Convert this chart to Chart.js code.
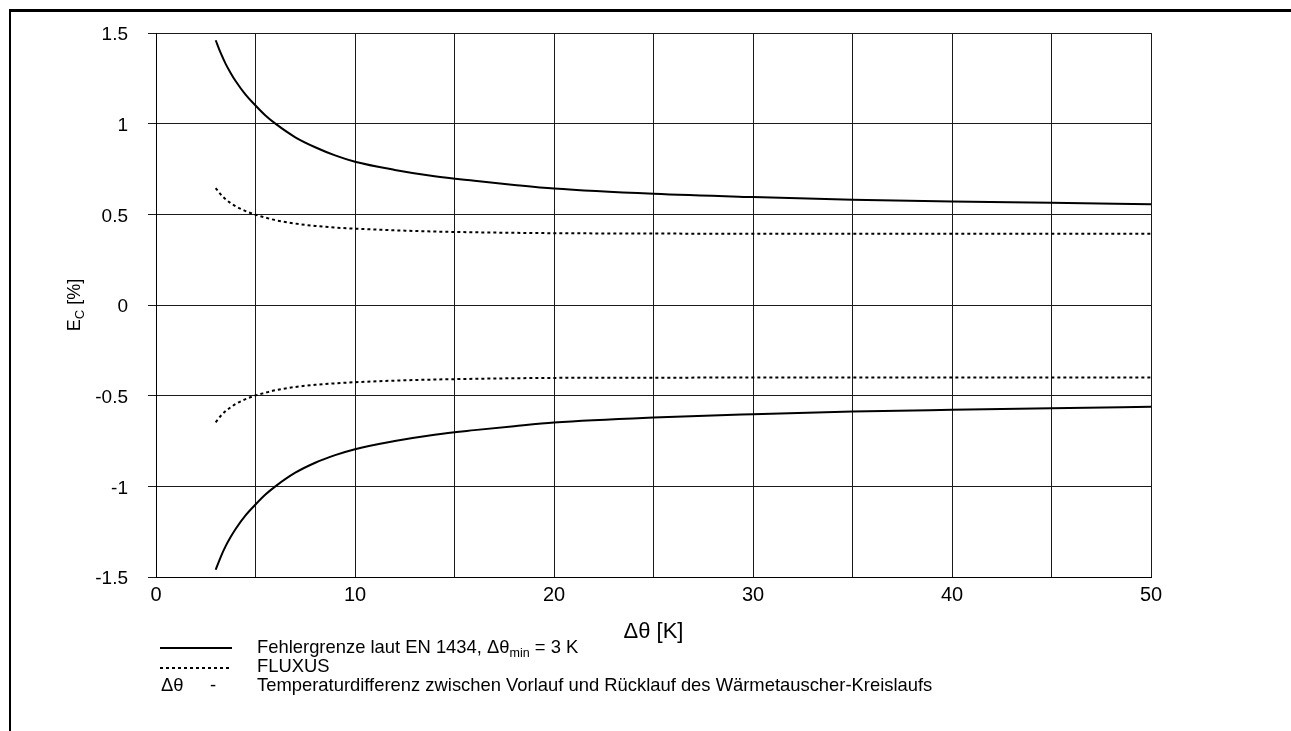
<!DOCTYPE html>
<html>
<head>
<meta charset="utf-8">
<script src="https://cdn.jsdelivr.net/npm/chart.js@4"></script>
<style>
  html, body { margin: 0; padding: 0; background: #fff; }
  #wrap { position: relative; width: 1291px; height: 731px; }
  #frame { position: absolute; left: 9px; top: 9px; width: 1282px; height: 722px;
           border-top: 3px solid #000; border-left: 2px solid #000; box-sizing: border-box; }
  canvas { position: absolute; left: 0; top: 0; }
</style>
</head>
<body>
<div id="wrap">
  <div id="frame"></div>
  <canvas id="c" width="1291" height="731"></canvas>
</div>
<script>
// Δθ values [K]
const deltaTheta = [3, 3.25, 3.5, 3.75, 4, 4.5, 5, 5.5, 6, 7, 8, 9, 10, 12, 14, 16, 18, 20, 25, 30, 35, 40, 45, 50];
// Error limit EN 1434 (upper / lower) [%]
const limitUpper = [1.46, 1.39, 1.33, 1.28, 1.235, 1.16, 1.10, 1.045, 1.0, 0.925, 0.87, 0.825, 0.79, 0.745, 0.71, 0.685, 0.662, 0.642, 0.613, 0.595, 0.581, 0.571, 0.564, 0.556];
const limitLower = [-1.46, -1.39, -1.33, -1.28, -1.235, -1.16, -1.10, -1.045, -1.0, -0.925, -0.87, -0.828, -0.795, -0.75, -0.715, -0.69, -0.668, -0.648, -0.62, -0.602, -0.588, -0.578, -0.569, -0.561];
// FLUXUS (upper / lower) [%]
const fluxusUpper = [0.645, 0.61, 0.583, 0.562, 0.545, 0.518, 0.498, 0.482, 0.468, 0.449, 0.436, 0.427, 0.421, 0.412, 0.405, 0.401, 0.398, 0.396, 0.394, 0.393, 0.393, 0.393, 0.393, 0.393];
const fluxusLower = [-0.647, -0.612, -0.585, -0.564, -0.546, -0.519, -0.499, -0.484, -0.47, -0.452, -0.44, -0.432, -0.426, -0.417, -0.411, -0.407, -0.404, -0.402, -0.401, -0.4, -0.4, -0.4, -0.4, -0.4];
// Tick labels
const xTickLabels = ['0', '10', '20', '30', '40', '50'];
const yTickLabels = ['-1.5', '-1', '-0.5', '0', '0.5', '1', '1.5'];
const yTickValues = [-1.5, -1, -0.5, 0, 0.5, 1, 1.5];

const pts = (ys) => deltaTheta.map((x, i) => ({ x: x, y: ys[i] }));

const FONT = '"Liberation Sans", Arial, sans-serif';

const solid = { borderColor: '#000', borderWidth: 2, pointRadius: 0, fill: false, cubicInterpolationMode: 'monotone' };
const dotted = { borderColor: '#000', borderWidth: 2, borderDash: [3, 3], pointRadius: 0, fill: false, cubicInterpolationMode: 'monotone' };

const decor = {
  id: 'decor',
  afterDraw(chart) {
    const ctx = chart.ctx;
    const area = chart.chartArea;
    ctx.save();
    ctx.fillStyle = '#000';
    ctx.strokeStyle = '#000';
    // Y-axis title: E_C [%]
    ctx.save();
    ctx.translate(80, (area.top + area.bottom) / 2);
    ctx.rotate(-Math.PI / 2);
    ctx.textBaseline = 'alphabetic';
    const big = '18px ' + FONT, small = '13px ' + FONT;
    ctx.font = big; const wE = ctx.measureText('E').width;
    ctx.font = small; const wC = ctx.measureText('C').width;
    ctx.font = big; const wR = ctx.measureText(' [%]').width;
    let x0 = -(wE + wC + wR) / 2;
    ctx.font = big; ctx.textAlign = 'left';
    ctx.fillText('E', x0, 0);
    ctx.font = small; ctx.fillText('C', x0 + wE, 4);
    ctx.font = big; ctx.fillText(' [%]', x0 + wE + wC, 0);
    ctx.restore();

    // X-axis title
    ctx.font = '22px ' + FONT;
    ctx.textAlign = 'center';
    ctx.textBaseline = 'middle';
    ctx.fillText('Δθ [K]', (area.left + area.right) / 2, 632);

    // Legend
    const lf = '18.4px ' + FONT, lsub = '12.5px ' + FONT;
    ctx.textAlign = 'left';
    ctx.textBaseline = 'middle';
    // line 1
    ctx.lineWidth = 2;
    ctx.setLineDash([]);
    ctx.beginPath(); ctx.moveTo(160, 648); ctx.lineTo(232, 648); ctx.stroke();
    let tx = 257;
    ctx.font = lf;
    const s1 = 'Fehlergrenze laut EN 1434, Δθ';
    ctx.fillText(s1, tx, 648); tx += ctx.measureText(s1).width;
    ctx.font = lsub; ctx.fillText('min', tx, 654); tx += ctx.measureText('min').width;
    ctx.font = lf; ctx.fillText(' = 3 K', tx, 648);
    // line 2
    ctx.setLineDash([3, 3]);
    ctx.beginPath(); ctx.moveTo(160, 668); ctx.lineTo(232, 668); ctx.stroke();
    ctx.setLineDash([]);
    ctx.fillText('FLUXUS', 257, 667);
    // line 3
    ctx.fillText('Δθ', 161, 686);
    ctx.fillText('-', 210, 686);
    ctx.fillText('Temperaturdifferenz zwischen Vorlauf und Rücklauf des Wärmetauscher-Kreislaufs', 257, 686);
    ctx.restore();
  }
};

new Chart(document.getElementById('c'), {
  type: 'line',
  data: {
    datasets: [
      Object.assign({ label: 'Fehlergrenze oben', data: pts(limitUpper) }, solid),
      Object.assign({ label: 'Fehlergrenze unten', data: pts(limitLower) }, solid),
      Object.assign({ label: 'FLUXUS oben', data: pts(fluxusUpper) }, dotted),
      Object.assign({ label: 'FLUXUS unten', data: pts(fluxusLower) }, dotted)
    ]
  },
  options: {
    responsive: false,
    animation: false,
    devicePixelRatio: 1,
    layout: { padding: { left: 0, top: 33, right: 140, bottom: 0 } },
    plugins: { legend: { display: false }, tooltip: { enabled: false } },
    scales: {
      x: {
        type: 'linear',
        min: 0, max: 50,
        afterFit(scale) { scale.height = 731 - 577; },
        ticks: {
          stepSize: 5, autoSkip: false, maxRotation: 0, padding: 6,
          color: '#000', font: { family: FONT, size: 20 },
          callback: (v) => { const i = xTickLabels.indexOf(String(v)); return i >= 0 ? xTickLabels[i] : ''; }
        },
        grid: { color: '#1a1a1a', lineWidth: 1, drawTicks: false },
        border: { display: true, color: '#000', width: 1 }
      },
      y: {
        type: 'linear',
        min: -1.5, max: 1.5,
        afterFit(scale) { scale.width = 156; },
        afterBuildTicks(scale) { scale.ticks = yTickValues.map(v => ({ value: v })); },
        ticks: {
          autoSkip: false, padding: 20, labelOffset: 2,
          color: '#000', font: { family: FONT, size: 19 },
          callback: (v) => { const i = yTickValues.indexOf(v); return i >= 0 ? yTickLabels[i] : ''; }
        },
        grid: { color: '#1a1a1a', lineWidth: 1, tickLength: 8 },
        border: { display: true, color: '#000', width: 1 }
      }
    }
  },
  plugins: [decor]
});
</script>
</body>
</html>
